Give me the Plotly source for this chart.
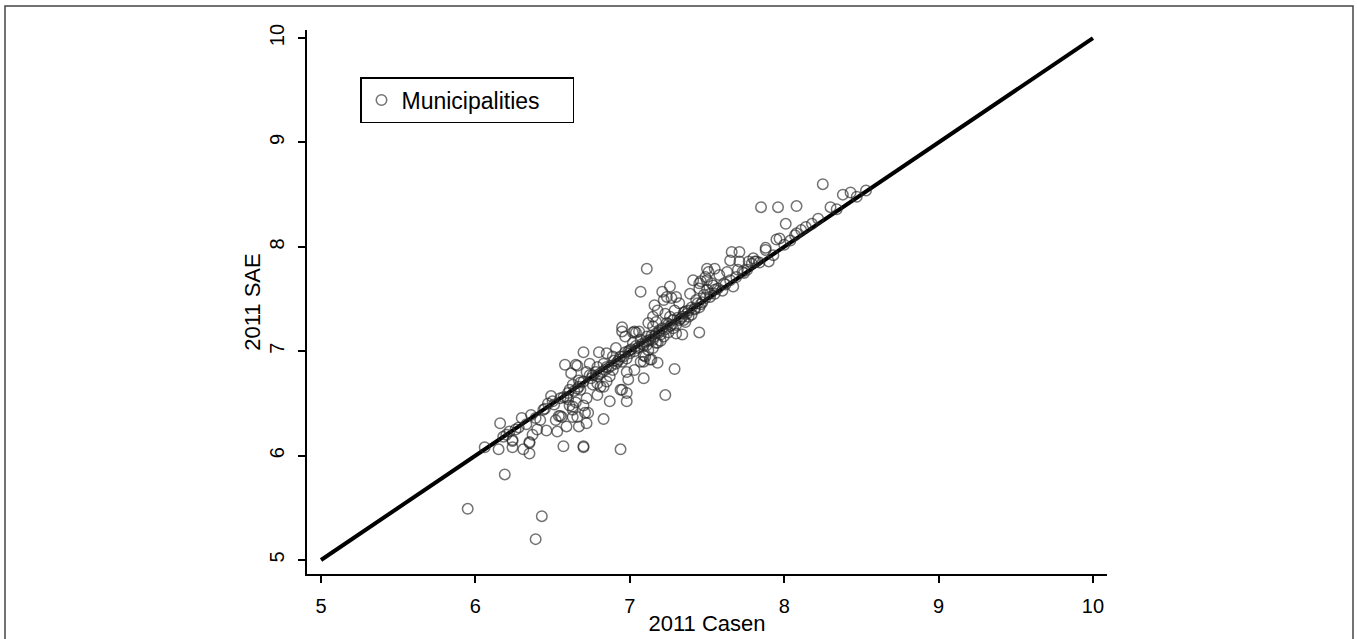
import plotly.graph_objects as go

# 2011 Casen (x) vs 2011 SAE (y) for municipalities
casen = [
    5.95, 6.43, 6.39, 6.19, 6.06, 6.15, 6.24, 6.31, 6.35, 6.35, 6.24,
    6.57, 6.70, 6.70, 6.94, 6.16, 6.20, 6.24, 6.18, 6.22, 6.35, 6.37,
    6.40, 6.36, 6.39, 6.42, 6.46, 6.53, 6.49, 6.54, 6.56, 6.59, 6.63,
    6.67, 6.72, 6.71, 6.73, 6.70, 6.61, 6.63, 6.60, 6.72, 6.79, 6.83,
    6.87, 6.95, 6.98, 6.98, 6.76, 6.81, 6.85, 6.61, 6.67, 6.58, 6.65,
    6.66, 6.70, 6.80, 6.97, 7.34, 7.45, 7.18, 7.29, 7.23, 6.98, 6.99,
    6.94, 6.72, 6.63, 6.68, 6.59, 6.66, 6.52, 6.44, 6.55, 6.79, 6.83,
    6.74, 6.79, 6.87, 6.89, 6.85, 6.91, 6.95, 6.98, 7.07, 7.09, 7.12,
    7.15, 7.02, 7.07, 7.11, 7.17, 7.20, 6.95, 7.02, 7.06, 7.14, 6.89,
    6.91, 6.85, 6.74, 6.79, 6.83, 6.62, 6.67, 6.65, 6.63, 6.95, 7.04,
    7.30, 7.10, 7.13, 7.11, 7.15, 7.18, 7.22, 7.17, 7.12, 7.15, 7.24,
    7.07, 7.11, 7.26, 7.21, 7.22, 7.24, 7.27, 7.30, 7.32, 7.39, 7.41,
    7.45, 7.50, 7.54, 7.55, 7.52, 7.48, 7.43, 7.16, 7.18, 7.15, 7.17,
    7.23, 7.26, 7.29, 7.32, 7.36, 7.37, 7.03, 7.09, 6.99, 6.94, 7.09,
    7.03, 7.09, 7.66, 7.71, 7.65, 7.71, 7.80, 7.81, 7.50, 7.51, 7.55,
    7.58, 7.63, 7.65, 7.61, 7.67, 7.69, 7.46, 7.45, 7.50, 7.53, 7.55,
    7.49, 7.70, 7.85, 7.96, 8.08, 8.01, 8.25, 8.38, 8.43, 8.53, 8.30,
    8.22, 8.14, 8.11, 8.07, 7.95, 7.97, 7.88, 7.90, 7.79, 8.08, 7.88,
    7.82, 7.77, 7.73, 8.18, 8.34, 8.47,
    6.45, 6.50, 6.55, 6.60, 6.66, 6.70, 6.75, 6.78, 6.82, 6.86,
    6.80, 6.84, 6.88, 6.90, 6.93, 6.96, 6.97, 7.00, 7.01, 7.03,
    7.04, 7.05, 7.08, 7.10, 7.12, 7.14, 7.16, 7.19, 7.21, 7.23,
    7.25, 7.27, 7.28, 7.31, 7.33, 7.35, 7.38, 7.40, 7.42, 7.44,
    7.47, 7.49, 7.52, 7.20, 7.25, 7.30, 7.35, 7.40, 7.28, 7.45,
    7.38, 7.57, 7.60, 7.62, 7.74, 7.76, 7.84, 7.93, 8.00, 8.04,
    6.28, 6.33, 6.30, 6.26, 6.47, 6.51, 6.57, 6.64, 6.68, 6.76,
    6.92, 7.00, 7.06, 7.13, 7.19, 7.26, 7.34, 7.42, 7.36, 7.46,
]
sae = [
    5.49, 5.42, 5.20, 5.82, 6.08, 6.06, 6.08, 6.06, 6.02, 6.12, 6.14,
    6.09, 6.09, 6.08, 6.06, 6.31, 6.20, 6.15, 6.18, 6.23, 6.13, 6.20,
    6.25, 6.39, 6.36, 6.34, 6.24, 6.23, 6.57, 6.38, 6.37, 6.28, 6.37,
    6.28, 6.31, 6.41, 6.41, 6.48, 6.48, 6.44, 6.54, 6.55, 6.58, 6.35,
    6.52, 6.63, 6.52, 6.60, 6.68, 6.66, 6.71, 6.63, 6.66, 6.87, 6.87,
    6.86, 6.99, 6.99, 7.14, 7.16, 7.18, 6.89, 6.83, 6.58, 6.80, 6.73,
    6.63, 6.80, 6.68, 6.63, 6.56, 6.37, 6.34, 6.44, 6.38, 6.69, 6.66,
    6.77, 6.76, 6.76, 6.82, 6.85, 6.88, 6.90, 6.93, 6.90, 6.96, 7.01,
    7.03, 7.08, 7.11, 7.14, 7.08, 7.16, 7.19, 7.18, 7.19, 6.92, 6.95,
    7.03, 6.98, 6.88, 6.85, 6.88, 6.79, 6.72, 6.51, 6.47, 7.23, 7.18,
    7.17, 6.95, 6.92, 7.06, 7.11, 7.08, 7.14, 7.17, 7.27, 7.24, 7.27,
    7.57, 7.79, 7.62, 7.57, 7.49, 7.52, 7.51, 7.52, 7.46, 7.55, 7.68,
    7.65, 7.68, 7.63, 7.55, 7.52, 7.54, 7.49, 7.44, 7.39, 7.33, 7.28,
    7.36, 7.33, 7.39, 7.30, 7.28, 7.36, 7.19, 7.06, 7.00, 6.95, 6.90,
    6.82, 6.74, 7.95, 7.95, 7.87, 7.86, 7.89, 7.86, 7.79, 7.76, 7.79,
    7.73, 7.76, 7.68, 7.65, 7.62, 7.71, 7.67, 7.60, 7.59, 7.65, 7.59,
    7.71, 7.78, 8.38, 8.38, 8.39, 8.22, 8.60, 8.50, 8.52, 8.54, 8.38,
    8.27, 8.19, 8.16, 8.11, 8.07, 8.08, 7.99, 7.86, 7.84, 8.13, 7.97,
    7.86, 7.86, 7.76, 8.22, 8.36, 8.48,
    6.45, 6.52, 6.55, 6.60, 6.64, 6.71, 6.74, 6.80, 6.80, 6.84,
    6.78, 6.82, 6.86, 6.91, 6.92, 6.95, 6.99, 6.98, 7.02, 7.00,
    7.05, 7.03, 7.07, 7.09, 7.10, 7.15, 7.14, 7.20, 7.22, 7.21,
    7.26, 7.25, 7.30, 7.32, 7.31, 7.37, 7.39, 7.42, 7.40, 7.46,
    7.47, 7.51, 7.55, 7.10, 7.18, 7.25, 7.30, 7.35, 7.22, 7.42,
    7.33, 7.60, 7.58, 7.64, 7.75, 7.78, 7.85, 7.92, 8.02, 8.06,
    6.27, 6.30, 6.36, 6.25, 6.50, 6.49, 6.56, 6.62, 6.70, 6.77,
    6.90, 7.01, 7.04, 7.11, 7.18, 7.24, 7.33, 7.41, 7.38, 7.45,
]

line_x = [5, 10]
line_y = [5, 10]

x_ticks = [5, 6, 7, 8, 9, 10]
y_ticks = [5, 6, 7, 8, 9, 10]

FONT = "Liberation Sans, Arial, sans-serif"

fig = go.Figure()
fig.add_trace(go.Scatter(
    x=line_x, y=line_y, mode="lines",
    line=dict(color="black", width=4),
    showlegend=False, hoverinfo="skip",
))
fig.add_trace(go.Scatter(
    x=casen, y=sae, mode="markers", name="Municipalities",
    marker=dict(symbol="circle-open", size=10.5,
                color="rgba(40,40,40,0.65)", line=dict(width=1.5)),
))

L, R, T, B = 307, 1107, 30, 574
W, H = 1357, 639
pw, ph = R - L, B - T

axis_common = dict(
    showgrid=False, zeroline=False, showline=True, linecolor="black",
    linewidth=1.5, ticks="outside", ticklen=7, tickwidth=1.5,
    tickcolor="black", tickfont=dict(family=FONT, size=20, color="black"),
)

fig.update_layout(
    width=W, height=H,
    margin=dict(l=L, r=W - R, t=T, b=H - B, autoexpand=False),
    plot_bgcolor="white", paper_bgcolor="white",
    xaxis=dict(range=[4.909, 10.091], tickvals=x_ticks,
               title=dict(text="2011 Casen", font=dict(family=FONT, size=22, color="black"), standoff=0),
               ticklabelstandoff=6, **axis_common),
    yaxis=dict(range=[4.866, 10.077], tickvals=y_ticks, tickangle=-90,
               title=dict(text="2011 SAE", font=dict(family=FONT, size=22, color="black"), standoff=0),
               ticklabelstandoff=6, **axis_common),
    legend=dict(x=(360 - L) / pw, y=(B - 77) / ph, xanchor="left", yanchor="top",
                bordercolor="black", borderwidth=1.5, bgcolor="white",
                orientation="h", entrywidth=166,
                font=dict(family=FONT, size=23, color="black")),
    shapes=[dict(type="rect", xref="paper", yref="paper",
                 x0=(5 - L) / pw, x1=(1353 - L) / pw,
                 y0=(B - 660) / ph, y1=(B - 6) / ph,
                 line=dict(color="#444444", width=1.5), layer="below")],
)

fig.write_html("out.html", config={"displayModeBar": False},
               post_script="document.body.style.margin='0';")
